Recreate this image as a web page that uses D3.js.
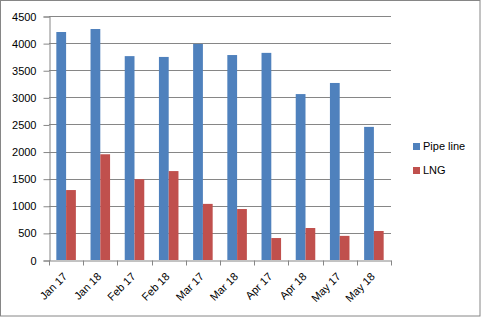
<!DOCTYPE html>
<html>
<head>
<meta charset="utf-8">
<script src="https://cdn.jsdelivr.net/npm/d3@7/dist/d3.min.js"></script>
<style>
  body { margin: 0; background: #fff; }
  text { font-family: "Liberation Sans", Arial, sans-serif; font-size: 11px; fill: #000; }
</style>
</head>
<body>
<div id="chart"></div>
<script>
// Data
var months = ["Jan 17", "Jan 18", "Feb 17", "Feb 18", "Mar 17", "Mar 18", "Apr 17", "Apr 18", "May 17", "May 18"];
var seriesNames = ["Pipe line", "LNG"];
var pipeline = [4205, 4260, 3760, 3745, 3985, 3780, 3820, 3060, 3265, 2455];
var lng = [1290, 1950, 1490, 1640, 1035, 940, 405, 590, 445, 535];
var yTicks = [0, 500, 1000, 1500, 2000, 2500, 3000, 3500, 4000, 4500];
var colors = ["#4F81BD", "#C0504D"];

var width = 481, height = 317;
var plot = {left: 49, right: 391, top: 16, bottom: 260};

var svg = d3.select("#chart").append("svg")
    .attr("width", width)
    .attr("height", height);

// outer border
svg.append("rect")
    .attr("x", 0.5).attr("y", 0.5)
    .attr("width", width - 1.5).attr("height", height - 1.5)
    .attr("fill", "#fff")
    .attr("stroke", "#868686");

var x0 = d3.scaleBand()
    .domain(months)
    .range([plot.left, plot.right]);

var bw = x0.bandwidth();
// gap width 150% -> group is 2 of 3.5 bar widths
var x1 = d3.scaleBand()
    .domain(seriesNames)
    .range([bw * 0.75 / 3.5, bw - bw * 0.75 / 3.5]);

var y = d3.scaleLinear()
    .domain([0, 4500])
    .range([plot.bottom, plot.top]);

// gridlines
svg.append("g").selectAll("line")
    .data(yTicks.slice(1))
    .join("line")
    .attr("x1", plot.left)
    .attr("x2", plot.right)
    .attr("y1", function(d) { return Math.round(y(d)) + 0.5; })
    .attr("y2", function(d) { return Math.round(y(d)) + 0.5; })
    .attr("stroke", "#868686");

// bars
var rows = months.map(function(m, i) { return {month: m, values: [pipeline[i], lng[i]]}; });

svg.append("g").selectAll("g")
    .data(rows)
    .join("g")
    .attr("transform", function(d) { return "translate(" + x0(d.month) + ",0)"; })
    .selectAll("rect")
    .data(function(d) { return d.values.map(function(v, j) { return {name: seriesNames[j], value: v, idx: j}; }); })
    .join("rect")
    .attr("x", function(d) { return x1(d.name); })
    .attr("width", x1.bandwidth())
    .attr("y", function(d) { return y(d.value); })
    .attr("height", function(d) { return y(0) - y(d.value); })
    .attr("fill", function(d) { return colors[d.idx]; });

// y axis
var yAxis = d3.axisLeft(y)
    .tickValues(yTicks)
    .tickSize(6)
    .tickPadding(7)
    .tickFormat(d3.format("d"));

var gy = svg.append("g")
    .attr("transform", "translate(" + (plot.left + 0.5) + ",0.5)")
    .call(yAxis);
gy.select(".domain").attr("stroke", "#868686");
gy.selectAll(".tick line").attr("stroke", "#868686");
gy.selectAll(".tick text").style("font-size", "11px").attr("fill", "#000");

// x axis
var xAxis = d3.axisBottom(x0).tickSize(0).tickPadding(0);
var gx = svg.append("g")
    .attr("transform", "translate(0," + (plot.bottom + 0.5) + ")")
    .call(xAxis);
gx.select(".domain").attr("stroke", "#868686");
gx.selectAll(".tick text")
    .style("text-anchor", "end")
    .attr("fill", "#000")
    .attr("x", 0)
    .attr("y", 0)
    .attr("dy", "0.35em")
    .attr("transform", "translate(-1,14) rotate(-45)");

// boundary ticks between categories
var bounds = months.map(function(m) { return x0(m); }).concat([plot.right]);
gx.append("g").selectAll("line")
    .data(bounds)
    .join("line")
    .attr("x1", function(d) { return Math.round(d) + 0.5; })
    .attr("x2", function(d) { return Math.round(d) + 0.5; })
    .attr("y1", 0).attr("y2", 5)
    .attr("stroke", "#868686");

// legend
var legend = svg.append("g")
    .attr("transform", "translate(413,143)");
var items = legend.selectAll("g")
    .data(seriesNames)
    .join("g")
    .attr("transform", function(d, i) { return "translate(0," + (i * 24) + ")"; });
items.append("rect")
    .attr("width", 7).attr("height", 7)
    .attr("fill", function(d, i) { return colors[i]; });
items.append("text")
    .attr("x", 10).attr("y", 7)
    .text(function(d) { return d; });
</script>
</body>
</html>
